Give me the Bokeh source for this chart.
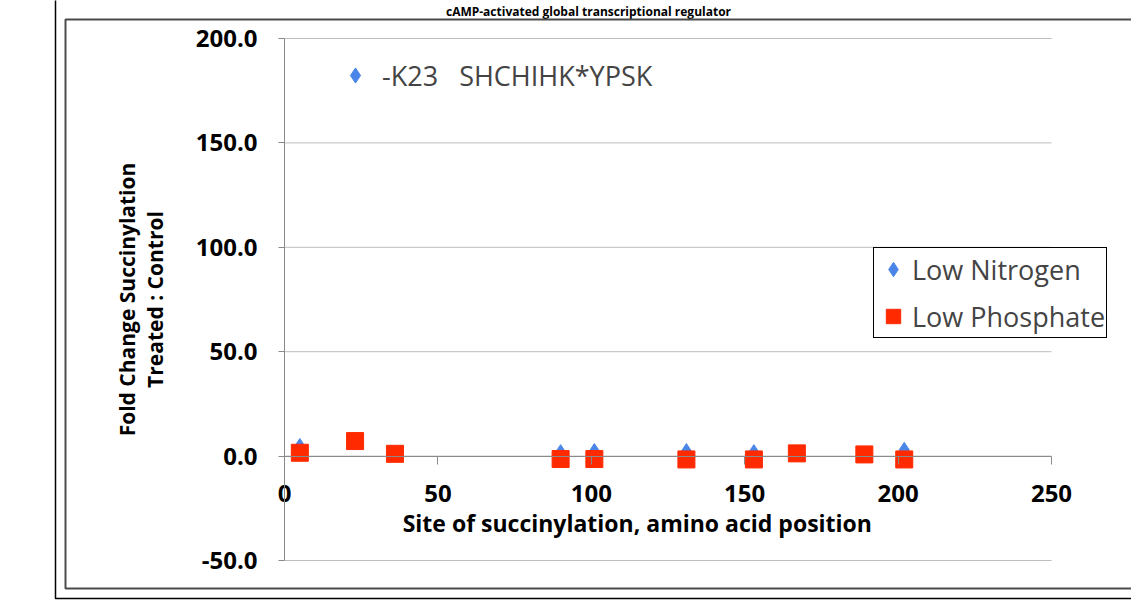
import numpy as np
from bokeh.plotting import figure
from bokeh.models import (ColumnDataSource, Range1d, FixedTicker, NumeralTickFormatter,
                          Legend, LegendItem, Label, BoxAnnotation)
from bokeh.embed import file_html
from bokeh.resources import INLINE

# ---- data ----
site = [5, 23, 36, 90, 101, 131, 153, 167, 189, 202]
low_nitrogen = [4.8, np.nan, 1.5, 1.9, 2.4, 2.4, 1.9, 1.0, 0.5, 3.0]
low_phosphate = [1.6, 7.2, 1.1, -1.4, -1.4, -1.6, -1.6, 1.3, 0.8, -1.6]
x_ticks = [0, 50, 100, 150, 200, 250]
y_ticks = [-50, 0, 50, 100, 150, 200]
series_names = ["Low Nitrogen", "Low Phosphate"]
title_text = "cAMP-activated global transcriptional regulator"
annotation_text = "-K23   SHCHIHK*YPSK"
x_label = "Site of succinylation, amino acid position"
y_label = "Fold Change Succinylation\nTreated : Control"

BLUE = "#4A86E8"
RED = "#FF2A00"
FONT = "Open Sans"
W, H = 1131, 601

# pixel layout of the plotting area (canvas coordinates)
X0_PX, X1_PX = 284, 1051     # x = 0 .. 250
YT_PX, YB_PX = 38, 560       # y = 200 .. -50
xmin, xmax = x_ticks[0], x_ticks[-1]
ymin, ymax = y_ticks[0], y_ticks[-1]
sx = (X1_PX - X0_PX) / (xmax - xmin)
sy = (YB_PX - YT_PX) / (ymax - ymin)
x_range = Range1d(xmin - X0_PX / sx, xmax + (W - X1_PX) / sx)
y_range = Range1d(ymin - (H - YB_PX) / sy, ymax + YT_PX / sy)

src = ColumnDataSource(data=dict(site=site,
                                 ln=np.array(low_nitrogen, dtype=float),
                                 lp=np.array(low_phosphate, dtype=float)))
grid_src = ColumnDataSource(data=dict(y=y_ticks,
                                      x0=[xmin] * len(y_ticks),
                                      x1=[xmax] * len(y_ticks)))

p = figure(width=W, height=H, x_range=x_range, y_range=y_range,
           output_backend="svg", toolbar_location=None,
           min_border_left=0, min_border_right=0, min_border_top=0, min_border_bottom=0)
p.outline_line_color = None
p.background_fill_color = "white"
p.border_fill_color = "white"
p.xgrid.visible = False
p.ygrid.visible = False

# horizontal gridlines (one per y tick, spanning the x-axis extent)
p.segment(x0="x0", x1="x1", y0="y", y1="y", source=grid_src,
          line_color="#BDBDBD", line_width=1)

# y axis crossing at x = 0
p.yaxis.fixed_location = 0
p.yaxis.bounds = (ymin, ymax)
p.yaxis.ticker = FixedTicker(ticks=y_ticks)
p.yaxis.formatter = NumeralTickFormatter(format="0.0")
p.yaxis.major_label_text_font = FONT
p.yaxis.major_label_text_font_style = "bold"
p.yaxis.major_label_text_font_size = "24px"
p.yaxis.major_label_text_color = "black"
p.yaxis.axis_line_color = "#8A8A8A"
p.yaxis.major_tick_line_color = "#8A8A8A"
p.yaxis.major_tick_out = 6
p.yaxis.major_tick_in = 0
p.yaxis.minor_tick_line_color = None
p.yaxis.major_label_standoff = 21
p.yaxis.axis_label = y_label
p.yaxis.axis_label_text_font = FONT
p.yaxis.axis_label_text_font_style = "bold"
p.yaxis.axis_label_text_font_size = "21px"
p.yaxis.axis_label_text_line_height = 1.0
p.yaxis.axis_label_text_color = "black"
p.yaxis.axis_label_standoff = 24

# x axis crossing at y = 0
p.xaxis.fixed_location = 0
p.xaxis.bounds = (xmin, xmax)
p.xaxis.ticker = FixedTicker(ticks=x_ticks)
p.xaxis.major_label_text_font = FONT
p.xaxis.major_label_text_font_style = "bold"
p.xaxis.major_label_text_font_size = "24px"
p.xaxis.major_label_text_color = "black"
p.xaxis.axis_line_color = "#8A8A8A"
p.xaxis.major_tick_line_color = "#8A8A8A"
p.xaxis.major_tick_out = 8
p.xaxis.major_tick_in = 0
p.xaxis.minor_tick_line_color = None
p.xaxis.major_label_standoff = 21

# series
rn = p.scatter(x="site", y="ln", source=src, marker="diamond", size=15,
               fill_color=BLUE, line_color=BLUE)
rp = p.scatter(x="site", y="lp", source=src, marker="square", size=17,
               fill_color=RED, line_color=RED)

legend = Legend(items=[LegendItem(label=series_names[0], renderers=[rn]),
                       LegendItem(label=series_names[1], renderers=[rp])],
                location=(873, H - 338), orientation="vertical",
                border_line_color="black", border_line_width=1, border_line_alpha=1,
                background_fill_color="white", background_fill_alpha=1,
                label_text_font=FONT, label_text_font_size="27px",
                glyph_width=36, glyph_height=40, label_height=40,
                label_standoff=1, padding=1, spacing=7, margin=0)
p.add_layout(legend)

note = Legend(items=[LegendItem(label=annotation_text, renderers=[rn])],
              location=(336, H - 94), border_line_color=None, background_fill_alpha=0,
              label_text_font=FONT, label_text_font_size="27px",
              glyph_width=38, glyph_height=38, label_height=38,
              label_standoff=8, padding=0, margin=0)
p.add_layout(note)

p.add_layout(Label(x=115, y=-32, text=x_label, text_align="center", text_baseline="middle",
                   text_font=FONT, text_font_style="bold", text_font_size="23px",
                   text_color="black"))

# chart title
p.add_layout(Label(x=588, y=11, x_units="canvas", y_units="canvas", text=title_text,
                   text_align="center", text_baseline="alphabetic",
                   text_font=FONT, text_font_style="bold", text_font_size="12px",
                   text_color="black"))

# chart-area box (its right side lies beyond the picture) and outer frame
p.add_layout(BoxAnnotation(left=65, right=1200, top=19, bottom=588,
                           left_units="canvas", right_units="canvas",
                           top_units="canvas", bottom_units="canvas",
                           fill_alpha=0, line_color="#4A4A4A", line_alpha=1, line_width=2))
p.add_layout(BoxAnnotation(left=55, right=1200, top=-20, bottom=598,
                           left_units="canvas", right_units="canvas",
                           top_units="canvas", bottom_units="canvas",
                           fill_alpha=0, line_color="black", line_alpha=1, line_width=1.5))

open("out.html", "w").write(file_html(p, INLINE))
